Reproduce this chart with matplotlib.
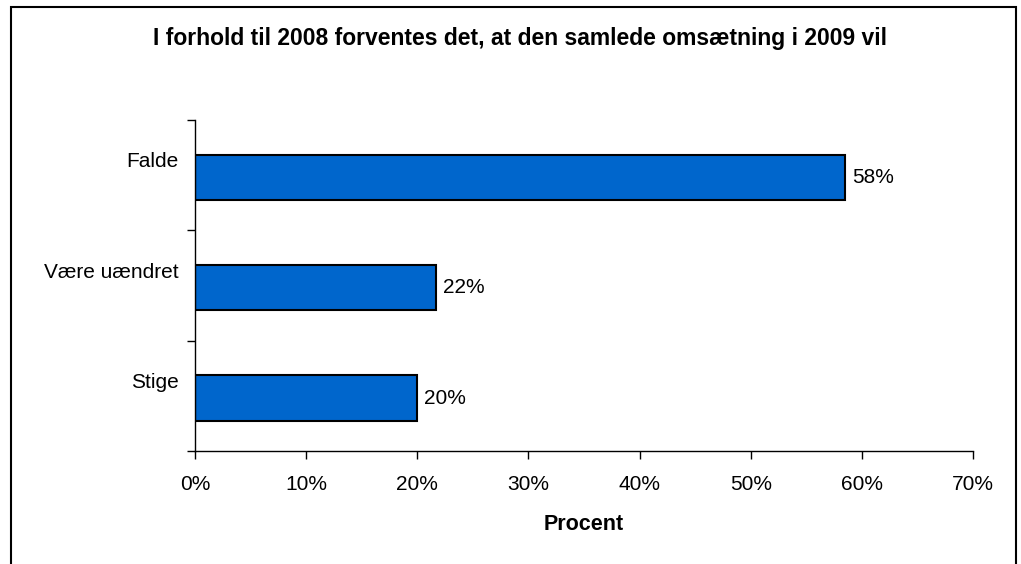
import matplotlib
matplotlib.use("Agg")
import matplotlib.pyplot as plt
from matplotlib.patches import Rectangle
from matplotlib.ticker import FuncFormatter, MultipleLocator

plt.rcParams['font.family'] = ['Liberation Sans', 'DejaVu Sans']

title = "I forhold til 2008 forventes det, at den samlede omsætning i 2009 vil"
categories = ["Stige", "Være uændret", "Falde"]
values = [0.200, 0.217, 0.585]
value_labels = ["20%", "22%", "58%"]
xlabel = "Procent"

W, H = 1021, 564
fig = plt.figure(figsize=(W / 100, H / 100), dpi=100)
ax = fig.add_axes([195 / W, 1 - 451 / H, (973 - 195) / W, (451 - 120) / H])

ypos = list(range(len(categories)))
bars = ax.barh([y - 0.02 for y in ypos], values, height=0.41, color='#0066CC',
               edgecolor='black', linewidth=1.5)
for b, lab in zip(bars, value_labels):
    ax.text(b.get_width() + 0.006, b.get_y() + b.get_height() / 2, lab,
            va='center', ha='left', fontsize=15, color='black')

ax.set_xlim(0, 0.70)
ax.set_ylim(-0.5, len(categories) - 0.5)
ax.xaxis.set_major_locator(MultipleLocator(0.10))
ax.xaxis.set_major_formatter(FuncFormatter(lambda v, p: f"{v*100:.0f}%"))
ax.set_yticks([-0.5 + i for i in range(len(categories) + 1)], minor=False)
ax.set_yticklabels([])
ax.set_yticks([y + 0.14 for y in ypos], minor=True)
ax.set_yticklabels(categories, minor=True)
ax.tick_params(axis='y', which='minor', length=0, pad=12, labelsize=15)
ax.tick_params(axis='y', which='major', length=6, width=1, direction='out')
ax.tick_params(axis='x', length=6, width=1, direction='out', pad=11, labelsize=15)

for s in ['top', 'right']:
    ax.spines[s].set_visible(False)
for s in ['left', 'bottom']:
    ax.spines[s].set_linewidth(1)

ax.set_xlabel(xlabel, fontsize=15.5, fontweight='bold', labelpad=15)
fig.text(520 / W, 1 - 38 / H, title, ha='center', va='center', fontsize=16.5, fontweight='bold')

fig.patches.append(Rectangle((11 / W, -0.1), (1016 - 11) / W, 1.1 - 7 / H,
                             transform=fig.transFigure, fill=False, edgecolor='black',
                             linewidth=1.5, zorder=10))

fig.savefig("out.png", dpi=100)
